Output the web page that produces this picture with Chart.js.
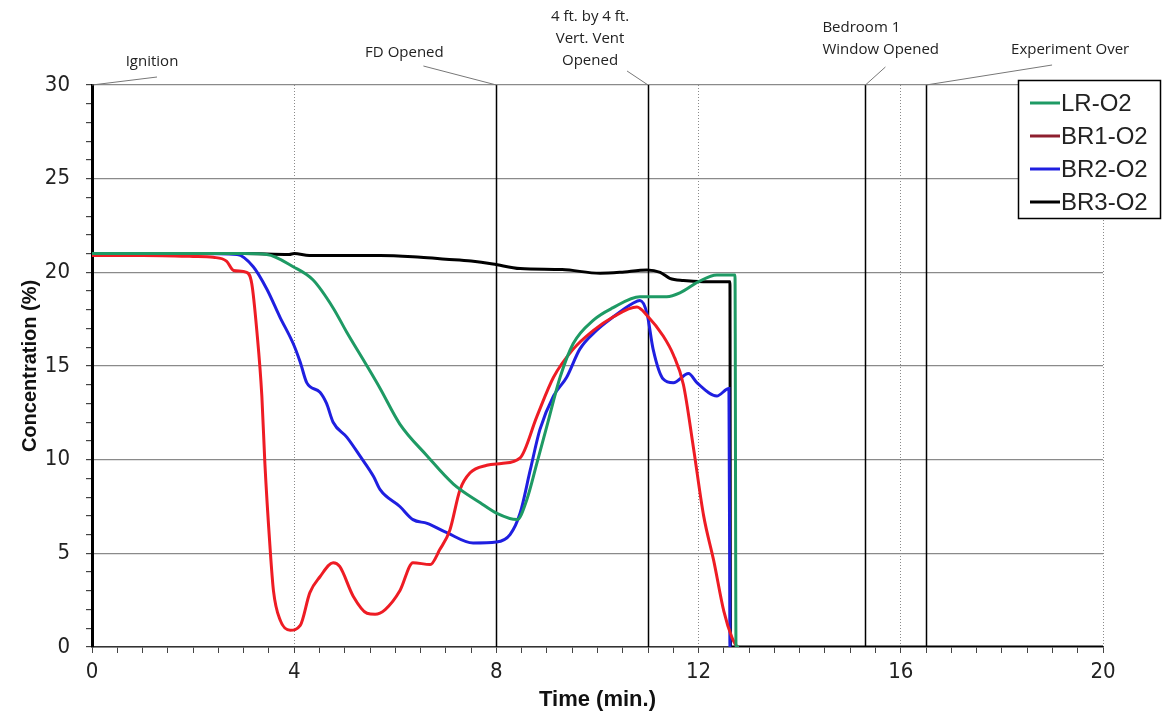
<!DOCTYPE html>
<html>
<head>
<meta charset="utf-8">
<script src="https://cdn.jsdelivr.net/npm/chart.js@4.4.0/dist/chart.umd.min.js"></script>
<style>
body { margin: 0; background: #fff; }
</style>
</head>
<body>
<canvas id="O2Chart" width="1170" height="721"></canvas>
<script>
// readings (min, %)
var lrTime = [0, 1, 2, 3, 3.46, 3.98, 4.37, 4.77, 5.04, 5.44, 5.7, 6.09, 6.63, 7.15, 7.68, 8.0, 8.41, 8.6, 8.8, 9.0, 9.26, 9.52, 9.92, 10.3, 10.84, 11.37, 11.63, 12.0, 12.36, 12.72, 12.74, 12.8];
var lrO2 = [21.0, 21.0, 21.0, 21.0, 20.95, 20.3, 19.6, 18.1, 16.8, 15.0, 13.8, 11.9, 10.2, 8.7, 7.7, 7.15, 6.8, 7.85, 9.8, 11.8, 14.4, 16.2, 17.45, 18.1, 18.7, 18.7, 18.9, 19.5, 19.86, 19.86, 0, 0];

var br1Time = [0, 1, 2, 2.4, 2.66, 2.8, 3.06, 3.16, 3.26, 3.36, 3.42, 3.52, 3.59, 3.72, 3.92, 4.12, 4.31, 4.51, 4.77, 4.9, 5.17, 5.44, 5.6, 5.8, 6.09, 6.35, 6.69, 6.88, 7.08, 7.28, 7.48, 7.81, 8.1, 8.47, 8.8, 9.13, 9.52, 9.92, 10.3, 10.78, 10.98, 11.3, 11.5, 11.7, 11.9, 12.1, 12.3, 12.5, 12.66, 12.76];
var br1O2 = [20.9, 20.9, 20.85, 20.8, 20.6, 20.1, 20.0, 19.4, 16.9, 13.4, 9.8, 5.4, 3.0, 1.45, 0.9, 1.15, 2.9, 3.75, 4.5, 4.3, 2.7, 1.8, 1.75, 2.0, 3.0, 4.5, 4.4, 5.2, 6.25, 8.4, 9.3, 9.7, 9.8, 10.1, 12.3, 14.4, 15.9, 16.9, 17.6, 18.15, 17.7, 16.6, 15.6, 14.0, 10.6, 7.0, 4.6, 1.9, 0.5, 0];

var br2Time = [0, 1, 2, 2.87, 3.19, 3.46, 3.72, 3.98, 4.12, 4.25, 4.51, 4.64, 4.77, 5.04, 5.3, 5.57, 5.7, 6.09, 6.35, 6.63, 7.02, 7.54, 8.0, 8.27, 8.47, 8.67, 8.86, 9.13, 9.39, 9.65, 9.98, 10.3, 10.7, 10.84, 10.98, 11.1, 11.3, 11.5, 11.8, 11.97, 12.36, 12.6, 12.62];
var br2O2 = [21.0, 21.0, 21.0, 20.95, 20.3, 19.1, 17.6, 16.2, 15.2, 14.1, 13.6, 13.0, 12.0, 11.2, 10.2, 9.1, 8.4, 7.5, 6.8, 6.6, 6.1, 5.55, 5.6, 6.0, 7.15, 9.45, 11.6, 13.4, 14.4, 15.9, 16.9, 17.6, 18.35, 18.5, 17.8, 15.9, 14.3, 14.1, 14.6, 14.1, 13.4, 13.8, 0];

var br3Time = [0, 1, 2, 3, 3.9, 4.0, 4.3, 5.0, 5.7, 6.5, 7.0, 7.5, 7.93, 8.47, 9.3, 10.05, 10.45, 10.98, 11.24, 11.43, 11.7, 12.09, 12.62, 12.63, 14, 16, 18, 20];
var br3O2 = [20.95, 21.0, 21.0, 21.0, 20.95, 21.0, 20.9, 20.9, 20.9, 20.8, 20.7, 20.6, 20.45, 20.2, 20.15, 19.95, 20.0, 20.13, 20.0, 19.68, 19.56, 19.5, 19.5, 0, 0, 0, 0, 0];

var seriesNames = ['LR-O2', 'BR1-O2', 'BR2-O2', 'BR3-O2'];

var eventTimes = [0, 8, 11, 15.3, 16.5];
var eventLabels = [['Ignition'], ['FD Opened'], ['4 ft. by 4 ft.', 'Vert. Vent', 'Opened'], ['Bedroom 1', 'Window Opened'], ['Experiment Over']];

// where each callout sits, in px from the top of its event line
var callouts = [
    {tx: 60, ty: -23, lx: 65, ly: -8, align: 'center'},
    {tx: -92, ty: -32, lx: -73, ly: -19, align: 'center'},
    {tx: -58, ty: -68, lx: -21, ly: -14, align: 'center'},
    {tx: -43, ty: -57, lx: 20, ly: -18, align: 'left'},
    {tx: 85, ty: -35, lx: 126, ly: -20, align: 'left'}
];

function pts(t, v) {
    return t.map(function (x, i) { return {x: x, y: v[i]}; });
}

var colors = ['#1e9a64', '#ee1c24', '#1f1fe0', '#000000'];
var legendColors = ['#1e9a64', '#8e1f2e', '#1f1fe0', '#000000'];
var tickFont = {family: '"DejaVu Sans"', size: 22, weight: '400 condensed'};

var eventPlugin = {
    id: 'events',
    beforeDatasetsDraw: function (chart) {
        var ctx = chart.ctx, xs = chart.scales.x, area = chart.chartArea;
        ctx.save();
        eventTimes.forEach(function (t) {
            var x = Math.round(xs.getPixelForValue(t)) + 0.5;
            ctx.strokeStyle = '#000';
            ctx.lineWidth = 1.5;
            ctx.beginPath();
            ctx.moveTo(x, area.top);
            ctx.lineTo(x, area.bottom);
            ctx.stroke();
        });
        ctx.restore();
    },
    afterDraw: function (chart) {
        var ctx = chart.ctx, xs = chart.scales.x, top = chart.chartArea.top;
        ctx.save();
        eventTimes.forEach(function (t, i) {
            var x = xs.getPixelForValue(t);
            var c = callouts[i];
            ctx.strokeStyle = '#777';
            ctx.lineWidth = 1;
            ctx.beginPath();
            ctx.moveTo(x, top);
            ctx.lineTo(x + c.lx, top + c.ly);
            ctx.stroke();
            ctx.fillStyle = '#222';
            ctx.font = '15px "Open Sans"';
            ctx.textAlign = c.align;
            ctx.textBaseline = 'middle';
            eventLabels[i].forEach(function (line, j) {
                ctx.fillText(line, x + c.tx, top + c.ty + j * 22);
            });
        });

        // legend box
        var bx = 1018, by = 80, bw = 142, bh = 138;
        ctx.fillStyle = '#fff';
        ctx.fillRect(bx, by, bw, bh);
        ctx.strokeStyle = '#000';
        ctx.lineWidth = 1.5;
        ctx.strokeRect(bx + 0.5, by + 0.5, bw, bh);
        chart.data.datasets.forEach(function (ds, i) {
            var y = 103 + i * 33;
            ctx.strokeStyle = legendColors[i];
            ctx.lineWidth = 3;
            ctx.beginPath();
            ctx.moveTo(1030, y);
            ctx.lineTo(1060, y);
            ctx.stroke();
            ctx.fillStyle = '#222';
            ctx.font = '24px "Liberation Sans"';
            ctx.textAlign = 'left';
            ctx.textBaseline = 'middle';
            ctx.fillText(ds.label, 1061, y + 1);
        });
        ctx.restore();
    }
};

var data = {
    datasets: [
        {label: seriesNames[0], data: pts(lrTime, lrO2), borderColor: colors[0], borderWidth: 3},
        {label: seriesNames[1], data: pts(br1Time, br1O2), borderColor: colors[1], borderWidth: 3},
        {label: seriesNames[2], data: pts(br2Time, br2O2), borderColor: colors[2], borderWidth: 3},
        {label: seriesNames[3], data: pts(br3Time, br3O2), borderColor: colors[3], borderWidth: 3}
    ]
};

var config = {
    type: 'line',
    data: data,
    options: {
        responsive: false,
        animation: false,
        layout: {padding: {top: 85, right: 67, left: 0, bottom: 0}},
        elements: {
            point: {radius: 0},
            line: {tension: 0.4, cubicInterpolationMode: 'monotone', fill: false}
        },
        plugins: {
            legend: {display: false},
            tooltip: {enabled: false}
        },
        scales: {
            x: {
                type: 'linear',
                min: 0,
                max: 20,
                afterFit: function (s) { s.height = 74; },
                ticks: {
                    stepSize: 0.5,
                    autoSkip: false,
                    maxRotation: 0,
                    padding: 6,
                    color: '#222',
                    font: tickFont,
                    callback: function (v) { return v % 4 === 0 ? v : ''; }
                },
                grid: {
                    color: function (c) { return (c.tick && c.tick.value % 4 === 0 && c.tick.value !== 0) ? '#8a8a8a' : 'transparent'; },
                    tickColor: '#444',
                    tickLength: 6,
                    lineWidth: 1
                },
                border: {color: '#333', width: 1.5, dash: [1, 2]},
                title: {
                    display: true,
                    text: 'Time (min.)',
                    color: '#111',
                    font: {family: '"Liberation Sans"', size: 22, weight: 'bold'},
                    padding: {top: 0, bottom: 8}
                }
            },
            y: {
                min: 0,
                max: 30,
                afterFit: function (s) { s.width = 92; },
                ticks: {
                    stepSize: 1,
                    autoSkip: false,
                    padding: 16,
                    color: '#222',
                    font: tickFont,
                    callback: function (v) { return v % 5 === 0 ? v : ''; }
                },
                grid: {
                    color: function (c) { return (c.tick && c.tick.value % 5 === 0) ? '#8a8a8a' : 'transparent'; },
                    tickColor: '#444',
                    tickLength: 6,
                    lineWidth: 1.2
                },
                border: {color: '#000', width: 3},
                title: {
                    display: true,
                    text: 'Concentration (%)',
                    color: '#111',
                    font: {family: '"Liberation Sans"', size: 20, weight: 'bold'},
                    padding: {top: 18, bottom: 0}
                }
            }
        }
    },
    plugins: [eventPlugin]
};

var o2Chart = new Chart(document.getElementById('O2Chart'), config);
</script>
</body>
</html>
